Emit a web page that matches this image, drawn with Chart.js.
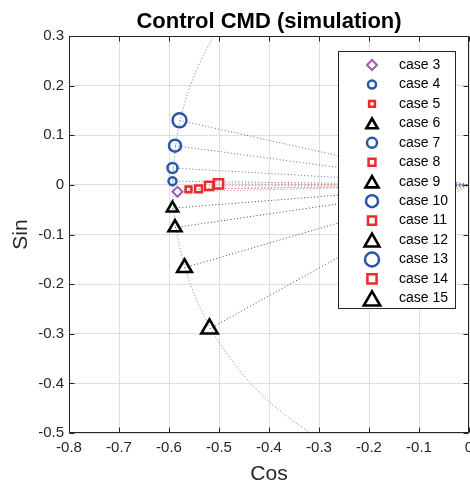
<!DOCTYPE html>
<html>
<head>
<meta charset="utf-8">
<script src="https://cdn.jsdelivr.net/npm/chart.js@4/dist/chart.umd.min.js"></script>
<style>
  html, body { margin: 0; padding: 0; background: #fff; }
  #wrap { width: 470px; height: 487px; }
</style>
</head>
<body>
<div id="wrap"><canvas id="chart" width="470" height="487"></canvas></div>
<script>
// values
const caseNames = ['case 3', 'case 4', 'case 5', 'case 6', 'case 7', 'case 8', 'case 9',
                   'case 10', 'case 11', 'case 12', 'case 13', 'case 14', 'case 15'];
const cosValues = [-0.583, -0.593, -0.561, -0.593, -0.593, -0.541, -0.588,
                   -0.588, -0.520, -0.569, -0.579, -0.501, -0.519];
const sinValues = [-0.014, 0.0075, -0.009, -0.047, 0.034, -0.008, -0.086,
                   0.079, -0.002, -0.167, 0.130, 0.002, -0.290];
const xTickValues = [-0.8, -0.7, -0.6, -0.5, -0.4, -0.3, -0.2, -0.1, 0];
const yTickValues = [-0.5, -0.4, -0.3, -0.2, -0.1, 0, 0.1, 0.2, 0.3];
const arcRadius = 0.592; // dotted reference circle round the origin

const FONT = '"Liberation Sans", Arial, Helvetica, sans-serif';
const BLUE = '#2a57a8';
const RED = '#ec2a2a';
const BLACK = '#000000';
const PURPLE = '#a55aae';

// marker look for each case: case 3 is the diamond, then circle / square / triangle
function markerStyle(i) {
    if (i === 0) {
        return { style: 'rectRot', color: PURPLE, ray: '#b47ab8', radius: 5, width: 2 };
    }
    const kind = (i - 1) % 3;
    const level = Math.floor((i - 1) / 3);
    if (kind === 0) {
        return { style: 'circle', color: BLUE, ray: '#4a6fc4', radius: 4 + level, width: 2.5 };
    }
    if (kind === 1) {
        return { style: 'rect', color: RED, ray: '#e86a6a', radius: 4.1 + level * 0.8, width: 2.5 };
    }
    return { style: 'triangle', color: BLACK, ray: '#444444', radius: 6.5 + level * 1.0, width: 2.6 };
}

const markerSets = [];
const raySets = [];
caseNames.forEach((name, i) => {
    const m = markerStyle(i);
    markerSets.push({
        label: name,
        data: [{ x: cosValues[i], y: sinValues[i] }],
        showLine: false,
        pointStyle: m.style,
        pointRadius: m.radius,
        pointBorderWidth: m.width,
        pointBorderColor: m.color,
        pointBackgroundColor: 'rgba(0,0,0,0)',
        order: 0
    });
    raySets.push({
        label: name + ' ray',
        data: [{ x: cosValues[i], y: sinValues[i] }, { x: 0, y: 0 }],
        showLine: true,
        borderColor: m.ray,
        borderWidth: 1,
        borderDash: [1, 2.3],
        pointRadius: 0,
        order: 1
    });
});

// dotted circle drawn through the scales
const arcPlugin = {
    id: 'arc',
    beforeDatasetsDraw(chart) {
        const { ctx, chartArea: a, scales: { x, y } } = chart;
        const cx = x.getPixelForValue(0);
        const cy = y.getPixelForValue(0);
        const rx = cx - x.getPixelForValue(-arcRadius);
        const ry = y.getPixelForValue(-arcRadius) - cy;
        ctx.save();
        ctx.beginPath();
        ctx.rect(a.left, a.top, a.right - a.left, a.bottom - a.top);
        ctx.clip();
        ctx.setLineDash([1, 2.3]);
        ctx.strokeStyle = '#4f6fc0';
        ctx.lineWidth = 1;
        ctx.beginPath();
        ctx.ellipse(cx, cy, rx, ry, 0, 0, Math.PI * 2);
        ctx.stroke();
        ctx.restore();
    }
};

// box round the plot with inward ticks
const framePlugin = {
    id: 'frame',
    afterDatasetsDraw(chart) {
        const { ctx, chartArea: a, scales: { x, y } } = chart;
        const l = Math.round(a.left) + 0.5, r = Math.round(a.right) - 0.5;
        const t = Math.round(a.top) + 0.5, b = Math.round(a.bottom) - 0.5;
        ctx.save();
        ctx.strokeStyle = '#262626';
        ctx.lineWidth = 1;
        ctx.strokeRect(l, t, r - l, b - t);
        ctx.beginPath();
        xTickValues.forEach(v => {
            const px = Math.round(x.getPixelForValue(v)) + 0.5;
            ctx.moveTo(px, b); ctx.lineTo(px, b - 5);
            ctx.moveTo(px, t); ctx.lineTo(px, t + 5);
        });
        yTickValues.forEach(v => {
            const py = Math.round(y.getPixelForValue(v)) + 0.5;
            ctx.moveTo(l, py); ctx.lineTo(l + 5, py);
            ctx.moveTo(r, py); ctx.lineTo(r - 5, py);
        });
        ctx.stroke();
        ctx.restore();
    }
};

function drawMarker(ctx, m, px, py) {
    // chart.js triangles sit a little high, nudge them onto the row
    const dy = m.style === 'triangle' ? m.radius / 4 : 0;
    ctx.save();
    ctx.strokeStyle = m.color;
    ctx.fillStyle = 'rgba(0,0,0,0)';
    ctx.lineWidth = m.width;
    Chart.helpers.drawPoint(ctx, { pointStyle: m.style, radius: m.radius, rotation: 0, borderWidth: m.width }, px, py + dy);
    ctx.restore();
}

// title over the plot and the legend box inside it
const titleLegendPlugin = {
    id: 'titleLegend',
    afterDraw(chart) {
        const { ctx, chartArea: a } = chart;
        ctx.save();
        ctx.fillStyle = '#000';
        ctx.font = 'bold 22px ' + FONT;
        ctx.textAlign = 'center';
        ctx.textBaseline = 'alphabetic';
        ctx.fillText('Control CMD (simulation)', (a.left + a.right) / 2, 28);

        const bx = 338.5, by = 51.5, bw = 117, bh = 257;
        ctx.fillStyle = '#fff';
        ctx.fillRect(bx, by, bw, bh);
        ctx.strokeStyle = '#262626';
        ctx.lineWidth = 1;
        ctx.strokeRect(bx, by, bw, bh);

        ctx.font = '14px ' + FONT;
        ctx.textAlign = 'left';
        ctx.textBaseline = 'middle';
        caseNames.forEach((name, i) => {
            const rowY = 65 + i * 19.45;
            drawMarker(ctx, markerStyle(i), 372, rowY);
            ctx.fillStyle = '#000';
            ctx.fillText(name, 399, rowY);
        });
        ctx.restore();
    }
};

const tickFont = { family: FONT, size: 15 };
const titleFont = { family: FONT, size: 21 };

new Chart(document.getElementById('chart'), {
    type: 'scatter',
    data: { datasets: [...markerSets, ...raySets] },
    options: {
        responsive: false,
        animation: false,
        layout: { autoPadding: false, padding: { top: 36, right: 1, left: 0, bottom: 0 } },
        plugins: {
            legend: { display: false },
            title: { display: false },
            tooltip: { enabled: false }
        },
        scales: {
            x: {
                type: 'linear',
                min: -0.8,
                max: 0,
                afterBuildTicks: s => { s.ticks = xTickValues.map(v => ({ value: v })); },
                ticks: {
                    color: '#262626',
                    font: tickFont,
                    padding: 6,
                    maxRotation: 0,
                    callback: v => String(+v.toFixed(1))
                },
                grid: { color: '#dedede', drawTicks: false },
                border: { display: false },
                title: { display: true, text: 'Cos', color: '#262626', font: titleFont, padding: { top: 0, bottom: 0 } },
                afterFit: s => { s.height = 54; s.paddingLeft = 0; s.paddingRight = 0; }
            },
            y: {
                type: 'linear',
                min: -0.5,
                max: 0.3,
                afterBuildTicks: s => { s.ticks = yTickValues.map(v => ({ value: v })); },
                ticks: {
                    color: '#262626',
                    font: tickFont,
                    padding: 5,
                    callback: v => String(+v.toFixed(1))
                },
                grid: { color: '#dedede', drawTicks: false },
                border: { display: false },
                title: { display: true, text: 'Sin', color: '#262626', font: titleFont, padding: { top: 9, bottom: 0 } },
                afterFit: s => { s.width = 69; s.paddingTop = 0; s.paddingBottom = 0; }
            }
        }
    },
    plugins: [arcPlugin, framePlugin, titleLegendPlugin]
});
</script>
</body>
</html>
